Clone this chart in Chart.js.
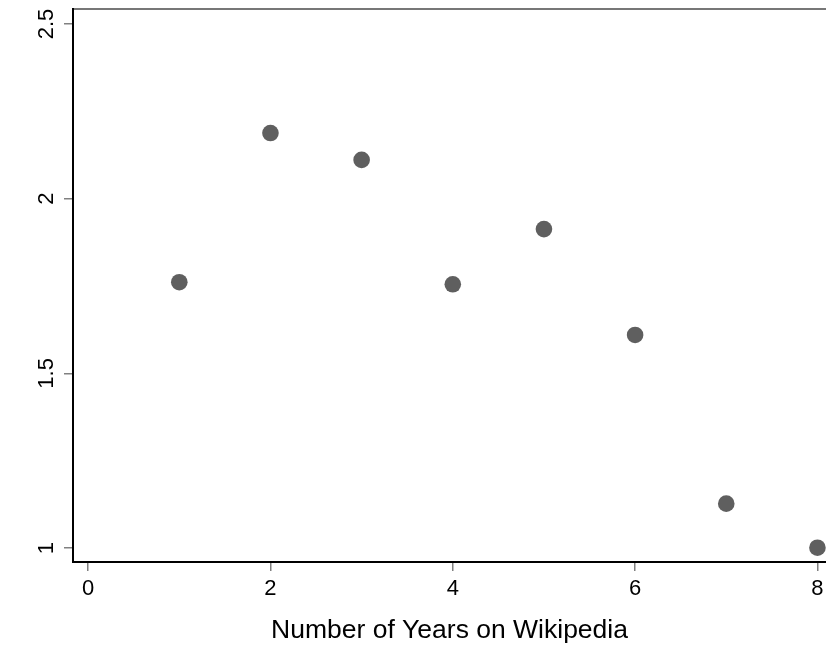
<!DOCTYPE html>
<html>
<head>
<meta charset="utf-8">
<script src="https://cdn.jsdelivr.net/npm/chart.js@4/dist/chart.umd.min.js"></script>
<style>
  html, body { margin: 0; padding: 0; background: #fff; overflow: hidden; }
  canvas { display: block; }
</style>
</head>
<body>
<canvas id="chart_c" width="826" height="647" style="width:826px;height:647px"></canvas>
<script>
// values
const years = [1, 2, 3, 4, 5, 6, 7, 8]
const values = [1.761, 2.188, 2.111, 1.755, 1.913, 1.61, 1.127, 1.001]
const xTicks = [0, 2, 4, 6, 8]
const yTicks = [1, 1.5, 2, 2.5]
const xTitle = 'Number of Years on Wikipedia'

const fontFam = '"Liberation Sans", Arial, Helvetica, sans-serif'

new Chart(document.getElementById('chart_c'), {
  type: 'scatter',
  data: {
    datasets: [{
      label: 'Years',
      data: years.map((y, i) => ({ x: y, y: values[i] })),
      backgroundColor: '#5f5f5f',
      borderWidth: 0,
      pointRadius: 8.3,
      pointHoverRadius: 8.3,
      clip: false
    }]
  },
  options: {
    responsive: false,
    animation: false,
    events: [],
    layout: { autoPadding: false, padding: { top: 9, right: 0, left: 0, bottom: 0 } },
    plugins: { legend: { display: false }, tooltip: { enabled: false } },
    scales: {
      x: {
        type: 'linear',
        min: -0.166,
        max: 8.094,
        afterBuildTicks: (s) => { s.ticks = xTicks.map(v => ({ value: v })) },
        afterFit: (s) => { s.height = 85; s.paddingLeft = 0; s.paddingRight = 0 },
        border: { display: true, color: '#000', width: 2 },
        grid: { display: true, drawOnChartArea: false, drawTicks: true, tickLength: 9, color: '#808080', lineWidth: 1.5 },
        ticks: { color: '#000', font: { family: fontFam, size: 22 }, padding: 5, maxRotation: 0, autoSkip: false },
        title: { display: true, text: xTitle, color: '#000', font: { family: fontFam, size: 26.5 }, padding: { top: 1, bottom: 0 } }
      },
      xTop: {
        type: 'linear',
        position: 'top',
        min: -0.166,
        max: 8.094,
        afterFit: (s) => { s.height = 0; s.paddingLeft = 0; s.paddingRight = 0 },
        border: { display: true, color: '#777', width: 2 },
        grid: { display: false },
        ticks: { display: false }
      },
      y: {
        type: 'linear',
        min: 0.96,
        max: 2.543,
        afterBuildTicks: (s) => { s.ticks = yTicks.map(v => ({ value: v })) },
        afterFit: (s) => { s.width = 73; s.paddingTop = 0; s.paddingBottom = 0 },
        border: { display: true, color: '#000', width: 2 },
        grid: { display: true, drawOnChartArea: false, drawTicks: true, tickLength: 9, color: '#808080', lineWidth: 1.5 },
        ticks: {
          color: '#000', font: { family: fontFam, size: 22 }, padding: 2,
          minRotation: 90, maxRotation: 90, crossAlign: 'center', autoSkip: false,
          callback: (v) => String(v)
        }
      }
    }
  }
})
</script>
</body>
</html>
